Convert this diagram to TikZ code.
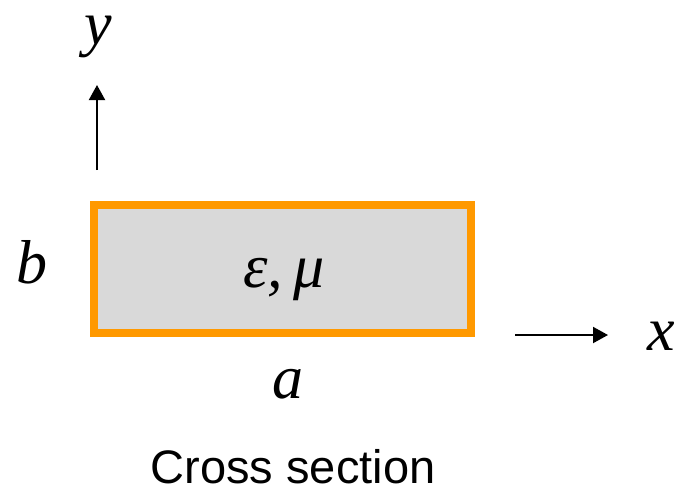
\documentclass[tikz,border=0pt]{standalone}
\usepackage{fontspec}
\setmainfont{Liberation Serif}
\newfontfamily\labelsans{Liberation Sans}
\usetikzlibrary{arrows.meta}
\definecolor{wallorange}{RGB}{255,153,0}
\definecolor{fillgray}{RGB}{217,217,217}

\begin{document}
\begin{tikzpicture}[
  x=1pt,y=-1pt,
  >={Triangle[length=15pt,width=16pt]},
  guide/.style={draw=wallorange, fill=fillgray, line width=8pt, inner sep=0pt,
                minimum width=377pt, minimum height=128pt},
  sym/.style={font=\fontsize{62}{70}\selectfont\itshape, inner sep=0pt, anchor=base},
  caption/.style={font=\labelsans\fontsize{47}{54}\selectfont, inner sep=0pt, anchor=base},
  axis/.style={->, line width=2pt}
]
  \useasboundingbox (0,0) rectangle (682,491);

  \node[guide] (guide) at (282.5,269) {};
  \node[sym] (medium) at (284,287) {ε,\,μ};
  \node[sym] (width) at (288,398) {a};
  \node[sym] (height) at (32,283) {b};

  \coordinate (ytail) at (97,170);
  \coordinate (yhead) at (97,85);
  \coordinate (xtail) at (515,335);
  \coordinate (xhead) at (608,335);
  \draw[axis] (ytail) -- (yhead);
  \draw[axis] (xtail) -- (xhead);

  \node[sym] (ylabel) at (98,44) {y};
  \node[sym] (xlabel) at (661,350) {x};

  \node[caption] (title) at (293,483) {Cross section};
\end{tikzpicture}
\end{document}
